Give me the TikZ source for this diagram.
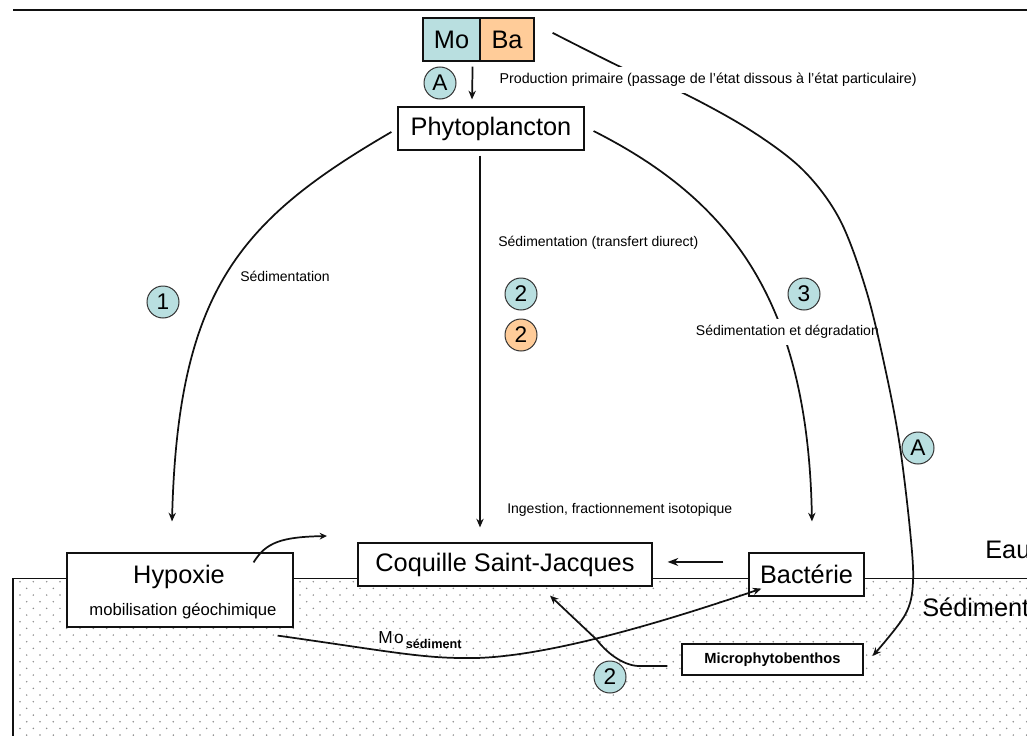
\documentclass[tikz,border=0pt]{standalone}
\usepackage{fontspec}
\setmainfont{Liberation Sans}
\usetikzlibrary{arrows.meta}
\definecolor{mocol}{HTML}{B9DFE0}
\definecolor{bacol}{HTML}{FFCC99}
\definecolor{dotcol}{HTML}{8C8C8C}
\definecolor{inkcol}{HTML}{111111}
\begin{document}
\begin{tikzpicture}[x=0.75pt,y=-0.75pt,
  box/.style={draw=inkcol, line width=0.9pt, fill=white, inner sep=0pt},
  big/.style={font=\fontsize{19}{22}\selectfont},
  small/.style={font=\fontsize{10.5}{12}\selectfont, inner sep=0pt, anchor=west},
  num/.style={circle, draw=black!80, line width=0.75pt, fill=mocol, minimum size=24pt, inner sep=0pt, font=\fontsize{17}{18}\selectfont},
  arr/.style={draw=inkcol, line width=1.3pt, -{Stealth[length=6.5pt,width=5.5pt]}},
]
\useasboundingbox (0,0) rectangle (1027,735);

% sediment dots
\foreach \j in {0,...,23}{
  \pgfmathsetmacro\yy{581.7+6.667*\j}
  \pgfmathsetmacro\xo{ifthenelse(mod(\j,2)==0,20,26.667)}
  \foreach \i in {0,...,76}{
    \fill[dotcol] (\xo+13.333*\i,\yy) circle (0.65pt);
  }
}
\draw[line width=0.75pt, inkcol] (1030,578) -- (13,578);
\draw[line width=1.3pt, inkcol] (13,578) -- (13,740);
\draw[line width=1.6pt, inkcol] (13,10) -- (1030,10);

% boxes
\node[box, fill=mocol, minimum width=42.75pt, minimum height=32.25pt, big] (mo) at (451.5,39.5) {Mo};
\node[box, fill=bacol, minimum width=40.5pt, minimum height=32.25pt, big] (ba) at (507,39.5) {Ba};
\node[box, minimum width=139.5pt, minimum height=32.25pt, big] (phyto) at (491,128.5) {Phytoplancton};
\node[box, minimum width=220.5pt, minimum height=32.25pt, big] (coq) at (505,564.5) {Coquille Saint-Jacques};
\node[box, minimum width=86.25pt, minimum height=32.25pt, big] (bact) at (806.5,574.5) {Bactérie};
\node[box, minimum width=169.5pt, minimum height=55.5pt] (hyp) at (180,590) {};
\node[big, inner sep=0pt, anchor=base] (hypt) at (179,583) {Hypoxie};
\node[inner sep=0pt, anchor=base, font=\fontsize{12.5}{14}\selectfont] (hypm) at (183,615) {mobilisation géochimique};
\node[box, minimum width=135.75pt, minimum height=23.25pt, font=\fontsize{11}{13}\selectfont\bfseries] (micro) at (772.5,659.5) {Microphytobenthos};

% numbered circles
\node[num] (cA) at (440,83) {A};
\node[num] (c1) at (163,302) {1};
\node[num] (c2a) at (521,294) {2};
\node[num, fill=bacol] (c2b) at (521,335) {2};
\node[num] (c3) at (804,294) {3};
\node[num] (cA2) at (918,448) {A};
\node[num] (c2c) at (610,677) {2};

% labels
\node[small] (sed1) at (240,276) {Sédimentation};
\node[small] (sed2) at (498,243) {Sédimentation (transfert diurect)};
\node[small] (ing) at (507,510) {Ingestion, fractionnement isotopique};
\node[big, inner sep=0pt, anchor=west] (eau) at (985,550) {Eau};
\node[big, inner sep=0pt, anchor=west] (sedim) at (922,607) {Sédiment};

% connectors
\draw[arr] ([xshift=-6pt,yshift=-3.75pt]mo.south east) -- ([xshift=-14.25pt,yshift=5.25pt]phyto.north);
\draw[arr] ([xshift=-4.5pt,yshift=-2.6pt]phyto.west) .. controls (240,220) and (178,290) .. ([xshift=-6pt,yshift=23.25pt]hyp.north);
\draw[arr] ([xshift=-8.25pt,yshift=-3.75pt]phyto.south) -- ([xshift=-18.75pt,yshift=11.25pt]coq.north);
\draw[arr] ([xshift=6.75pt,yshift=-1.9pt]phyto.east) .. controls (730,200) and (808,300) .. ([xshift=4.1pt,yshift=23.25pt]bact.north);
\node[small, fill=white, inner xsep=0.5pt, inner ysep=5pt] (sed3) at (695,332) {Sédimentation et dégradation};
\draw[arr] plot[smooth, tension=0.55] coordinates {([xshift=13.5pt,yshift=5pt]ba.east) (627,70) (683,93) (750,130) (803,170) (840,220) (867,293) (887,377) (900,447) (910,530) (913,582) (905,615) ([xshift=6.75pt,yshift=2.6pt]micro.east)};
\node[small, font=\fontsize{10.7}{12}\selectfont, fill=white, inner xsep=1pt, inner ysep=5pt] (prod) at (498,80) {Production primaire (passage de l'état dissous à l'état particulaire)};

\coordinate (hypout) at (327,536);
\draw[arr, -{Stealth[length=5.5pt,width=5pt]}] ([xshift=-30pt,yshift=-7.5pt]hyp.north east) .. controls (266,542) and (282,537) .. (hypout);
\draw[arr] ([xshift=-12pt,yshift=-6pt]hyp.south east) .. controls (380,650) and (420,658) .. (463,658) .. controls (530,660) and (640,630) .. ([xshift=9.75pt,yshift=6pt]bact.south west);
\draw[arr] ([xshift=-10.5pt,yshift=-4.9pt]micro.west) -- (638,666) .. controls (622,665) and (606,652) .. (597,640) -- ([xshift=33.75pt,yshift=-6.75pt]coq.south);
\draw[arr, -{Stealth[length=8pt,width=6pt]}] ([xshift=-18.75pt,yshift=9.4pt]bact.west) -- ([xshift=11.25pt,yshift=1.9pt]coq.east);

\node[anchor=base west, inner sep=0pt] (mosed) at (378,643) {{\fontsize{13}{15}\selectfont M\kern1pt o}\,\raisebox{-4pt}{\fontsize{9.5}{11}\selectfont\bfseries sédiment}};
\end{tikzpicture}
\end{document}
